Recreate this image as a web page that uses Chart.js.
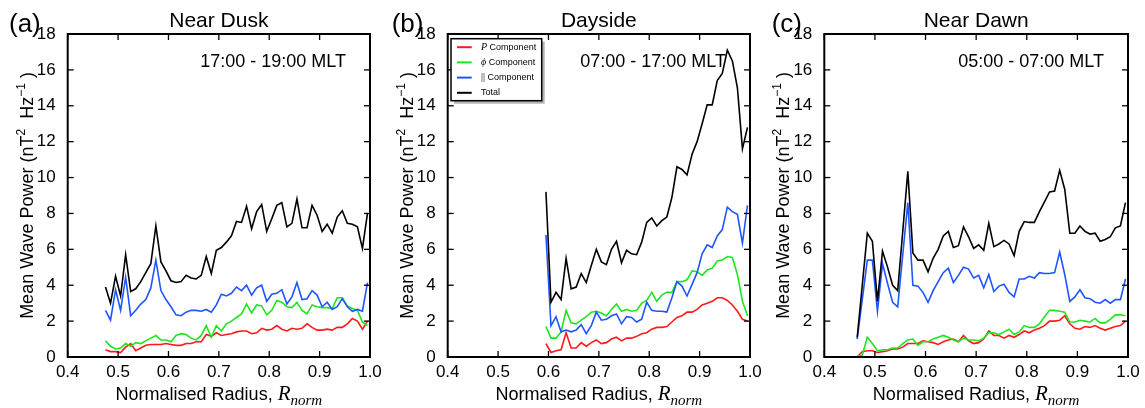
<!DOCTYPE html>
<html>
<head>
<meta charset="utf-8">
<script src="https://cdn.jsdelivr.net/npm/chart.js@4.4.0/dist/chart.umd.min.js"></script>
<style>
html, body { margin: 0; padding: 0; background: #fff; }
#wrap { position: relative; width: 1145px; height: 408px; overflow: hidden; }
canvas { position: absolute; top: 0; }
</style>
</head>
<body>
<div id="wrap">
<canvas id="dusk" width="395" height="408" style="left:0px"></canvas>
<canvas id="day" width="395" height="408" style="left:380px"></canvas>
<canvas id="dawn" width="388" height="408" style="left:757px"></canvas>
</div>
<script>
const SANS = '"Liberation Sans", Arial, Helvetica, sans-serif';
const SERIF = '"Liberation Serif", "DejaVu Serif", serif';

const xTicks = [0.4, 0.5, 0.6, 0.7, 0.8, 0.9, 1.0];
const yTicks = [0, 2, 4, 6, 8, 10, 12, 14, 16, 18];
const seriesNames = ['P Component', '\u03d5 Component', '|| Component', 'Total'];
const seriesColors = ['#ff1a1a', '#1ee61e', '#1f55ff', '#000000'];

// (a) near dusk
const radiusDusk = [0.475, 0.485, 0.495, 0.505, 0.515, 0.525, 0.535, 0.545, 0.555, 0.565,
    0.575, 0.585, 0.595, 0.605, 0.615, 0.625, 0.635, 0.645, 0.655, 0.665,
    0.675, 0.685, 0.695, 0.705, 0.715, 0.725, 0.735, 0.745, 0.755, 0.765,
    0.775, 0.785, 0.795, 0.805, 0.815, 0.825, 0.835, 0.845, 0.855, 0.865,
    0.875, 0.885, 0.895, 0.905, 0.915, 0.925, 0.935, 0.945, 0.955, 0.965,
    0.975, 0.985, 0.995];
const duskRed = [0.4, 0.3, 0.3, 0.25, 0.55, 0.75, 0.35, 0.5, 0.65, 0.7,
    0.7, 0.7, 0.75, 0.7, 0.65, 0.65, 0.75, 0.75, 0.85, 0.85,
    1.25, 1.15, 1.35, 1.2, 1.25, 1.3, 1.4, 1.45, 1.45, 1.3,
    1.35, 1.6, 1.5, 1.55, 1.75, 1.55, 1.45, 1.6, 1.55, 1.6,
    1.85, 1.65, 1.5, 1.5, 1.55, 1.5, 1.65, 1.65, 1.85, 2.15,
    2.0, 1.55, 2.0];
const duskGreen = [0.9, 0.6, 0.45, 0.5, 0.75, 0.6, 0.8, 0.75, 0.9, 1.05,
    1.2, 0.95, 0.95, 0.85, 1.2, 1.3, 1.25, 1.05, 0.95, 1.2,
    1.75, 1.1, 1.75, 1.45, 1.85, 2.0, 2.2, 2.4, 2.95, 2.45,
    2.9, 2.85, 2.35, 2.6, 3.15, 3.05, 2.8, 2.75, 3.05, 2.6,
    2.4, 2.9, 2.8, 2.75, 2.75, 2.7, 3.3, 3.3, 2.85, 2.7,
    2.6, 1.95, 1.75];
const duskBlue = [2.6, 2.05, 3.75, 2.6, 4.45, 2.3, 2.6, 2.95, 3.2, 3.85,
    5.4, 3.7, 3.2, 2.8, 2.35, 2.3, 2.5, 2.6, 2.6, 2.55,
    2.65, 2.5, 2.9, 3.5, 3.4, 3.55, 3.9, 3.7, 4.0, 3.45,
    3.85, 4.0, 3.1, 3.5, 3.55, 3.75, 2.95, 3.35, 4.15, 3.2,
    3.25, 3.7, 3.45, 2.8, 3.05, 2.65, 2.8, 3.25, 2.8, 2.55,
    2.65, 2.55, 4.15];
const duskTotal = [3.9, 3.0, 4.5, 3.4, 5.7, 3.65, 3.8, 4.2, 4.7, 5.2,
    7.3, 5.3, 4.8, 4.25, 4.15, 4.2, 4.55, 4.4, 4.35, 4.55,
    5.6, 4.65, 5.95, 6.1, 6.4, 6.75, 7.55, 7.5, 8.4, 7.15,
    8.1, 8.5, 7.0, 7.7, 8.45, 8.6, 7.25, 7.45, 8.8, 7.2,
    7.2, 8.45, 7.9, 7.0, 7.4, 6.9, 7.8, 8.15, 7.45, 7.4,
    7.25, 6.05, 8.0];

// (b) dayside
const radiusDay = [0.595, 0.605, 0.615, 0.625, 0.635, 0.645, 0.655, 0.665, 0.675, 0.685,
    0.695, 0.705, 0.715, 0.725, 0.735, 0.745, 0.755, 0.765, 0.775, 0.785,
    0.795, 0.805, 0.815, 0.825, 0.835, 0.845, 0.855, 0.865, 0.875, 0.885,
    0.895, 0.905, 0.915, 0.925, 0.935, 0.945, 0.955, 0.965, 0.975, 0.985,
    0.995];
const dayRed = [0.75, 0.25, 0.35, 0.4, 1.35, 0.5, 0.5, 0.8, 0.6, 0.8,
    0.95, 0.75, 0.8, 1.0, 1.1, 0.9, 1.05, 1.05, 1.15, 1.3,
    1.35, 1.55, 1.65, 1.65, 1.7, 1.95, 2.2, 2.3, 2.5, 2.5,
    2.65, 2.9, 3.0, 3.1, 3.3, 3.3, 3.15, 2.9, 2.55, 2.1,
    2.0];
const dayGreen = [1.7, 1.05, 1.05, 1.4, 2.6, 1.9, 1.85, 2.05, 2.25, 2.5,
    2.55, 2.45, 2.3, 2.65, 2.95, 2.55, 2.65, 2.55, 2.6, 3.0,
    3.15, 3.6, 3.1, 3.45, 3.6, 3.6, 4.2, 4.2, 4.3, 4.8,
    4.75, 4.55, 4.85, 4.95, 5.35, 5.4, 5.6, 5.55, 4.6, 3.1,
    2.3];
const dayBlue = [6.8, 1.75, 2.25, 1.4, 1.5, 1.4, 1.5, 1.8, 1.3, 1.75,
    2.5, 2.05, 2.1, 2.3, 2.4, 1.85, 2.25, 2.2, 1.95, 2.1,
    3.05, 2.6, 2.55, 2.55, 2.5, 3.3, 4.2, 3.95, 3.4, 4.05,
    4.7, 5.75, 6.25, 6.1, 6.75, 7.1, 8.35, 8.1, 7.95, 6.35,
    8.45];
const dayTotal = [9.2, 3.05, 3.6, 3.2, 5.5, 3.8, 3.9, 4.65, 4.15, 5.1,
    6.0, 5.3, 5.15, 6.0, 6.45, 5.25, 5.95, 5.75, 5.7, 6.4,
    7.5, 7.75, 7.3, 7.6, 7.8, 8.9, 10.6, 10.45, 10.15, 11.3,
    12.0, 13.0, 14.05, 14.05, 15.4, 15.8, 17.1, 16.5, 15.0, 11.6,
    12.8];

// (c) near dawn
const radiusDawn = [0.465, 0.475, 0.485, 0.495, 0.505, 0.515, 0.525, 0.535, 0.545, 0.555,
    0.565, 0.575, 0.585, 0.595, 0.605, 0.615, 0.625, 0.635, 0.645, 0.655,
    0.665, 0.675, 0.685, 0.695, 0.705, 0.715, 0.725, 0.735, 0.745, 0.755,
    0.765, 0.775, 0.785, 0.795, 0.805, 0.815, 0.825, 0.835, 0.845, 0.855,
    0.865, 0.875, 0.885, 0.895, 0.905, 0.915, 0.925, 0.935, 0.945, 0.955,
    0.965, 0.975, 0.985, 0.995];
const dawnRed = [0.0, 0.3, 0.35, 0.35, 0.25, 0.3, 0.35, 0.45, 0.45, 0.55,
    0.75, 0.75, 0.75, 0.9, 0.85, 0.8, 0.7, 0.85, 0.95, 1.0,
    0.85, 1.2, 0.9, 0.75, 0.8, 1.0, 1.45, 1.2, 1.2, 1.05,
    1.2, 1.1, 1.25, 1.45, 1.35, 1.5, 1.6, 1.75, 2.0, 2.0,
    2.05, 2.3, 1.85, 1.6, 1.55, 1.7, 1.65, 1.75, 1.6, 1.5,
    1.6, 1.7, 1.75, 2.0];
const dawnGreen = [0.05, 0.1, 1.1, 0.75, 0.35, 0.4, 0.4, 0.5, 0.5, 0.75,
    0.95, 1.0, 0.65, 0.85, 0.85, 1.0, 1.1, 1.2, 1.1, 0.95,
    0.85, 1.05, 0.95, 0.95, 0.9, 1.05, 1.35, 1.35, 1.25, 1.4,
    1.55, 1.25, 1.4, 1.75, 1.65, 1.65, 1.85, 2.25, 2.6, 2.6,
    2.55, 2.5, 1.95, 1.95, 2.05, 2.0, 1.95, 2.15, 1.9, 1.9,
    2.1, 2.35, 2.35, 2.3];
const dawnBlue = [1.0, 3.2, 5.4, 5.4, 2.55, 5.2, 4.1, 3.05, 2.8, 5.7,
    8.6, 4.0, 3.95, 3.6, 3.05, 3.7, 4.2, 4.7, 4.95, 4.15,
    4.55, 5.0, 4.9, 4.4, 4.55, 3.85, 4.6, 3.65, 3.95, 4.05,
    3.6, 3.35, 4.35, 4.35, 4.5, 4.4, 4.7, 4.65, 4.65, 4.7,
    5.85, 4.6, 3.1, 3.35, 3.75, 3.3, 3.25, 3.05, 3.0, 3.2,
    3.0, 3.2, 3.2, 4.35];
const dawnTotal = [1.1, 4.0, 6.9, 6.45, 3.1, 5.9, 5.0, 4.0, 3.7, 7.0,
    10.35, 5.8, 5.4, 5.4, 4.75, 5.5, 6.0, 6.75, 7.0, 6.1,
    6.2, 7.25, 6.7, 6.05, 6.25, 5.95, 7.45, 6.15, 6.3, 6.5,
    6.3, 5.65, 7.0, 7.55, 7.5, 7.5, 8.1, 8.65, 9.2, 9.25,
    10.4, 9.35, 6.9, 6.9, 7.3, 7.0, 6.85, 6.9, 6.45, 6.55,
    6.7, 7.2, 7.3, 8.6];

// draws a run of [text, font, baseline shift] pieces starting at x
function drawPieces(ctx, pieces, x, y) {
    pieces.forEach(p => {
        ctx.font = p[1];
        ctx.fillText(p[0], x, y + p[2]);
        x += ctx.measureText(p[0]).width;
    });
}

function piecesWidth(ctx, pieces) {
    let w = 0;
    pieces.forEach(p => { ctx.font = p[1]; w += ctx.measureText(p[0]).width; });
    return w;
}

function line(ctx, x1, y1, x2, y2) {
    ctx.beginPath();
    ctx.moveTo(x1, y1);
    ctx.lineTo(x2, y2);
    ctx.stroke();
}

const panelDecor = {
    id: 'panelDecor',
    beforeDatasetsDraw(chart, args, opts) {
        const ctx = chart.ctx;
        const a = chart.chartArea;
        ctx.save();
        ctx.fillStyle = '#000';
        ctx.font = '18px ' + SANS;
        ctx.textAlign = 'right';
        ctx.textBaseline = 'alphabetic';
        ctx.fillText(opts.note, a.right - 24, a.top + 33);
        ctx.restore();
    },
    afterDraw(chart, args, opts) {
        const ctx = chart.ctx;
        const a = chart.chartArea;
        const xs = chart.scales.x;
        const ys = chart.scales.y;
        ctx.save();
        ctx.strokeStyle = '#000';
        ctx.fillStyle = '#000';

        // inward ticks on all four sides
        ctx.lineWidth = 1.3;
        xTicks.forEach(v => {
            const px = xs.getPixelForValue(v);
            line(ctx, px, a.bottom, px, a.bottom - 6);
            line(ctx, px, a.top, px, a.top + 6);
        });
        yTicks.forEach(v => {
            const py = ys.getPixelForValue(v);
            line(ctx, a.left, py, a.left + 6, py);
            line(ctx, a.right, py, a.right - 6, py);
        });
        ctx.lineWidth = 2;
        ctx.strokeRect(a.left, a.top, a.right - a.left, a.bottom - a.top);

        const cx = (a.left + a.right) / 2;
        ctx.textBaseline = 'alphabetic';

        // title and panel tag
        ctx.textAlign = 'center';
        ctx.font = '21px ' + SANS;
        ctx.fillText(opts.title, cx, a.top - 7);
        ctx.textAlign = 'left';
        ctx.font = '26px ' + SANS;
        ctx.fillText(opts.tag, a.left + opts.tagOffset, 32);

        // x axis title
        const xPieces = [
            ['Normalised Radius, ', '18px ' + SANS, 0],
            ['R', 'italic 21px ' + SERIF, 0],
            ['norm', 'italic 15px ' + SERIF, 5],
        ];
        drawPieces(ctx, xPieces, cx - piecesWidth(ctx, xPieces) / 2, a.bottom + 43);

        // y axis title
        const yPieces = [
            ['Mean Wave Power (nT', '18px ' + SANS, 0],
            ['2', '12px ' + SANS, -8],
            ['  Hz', '18px ' + SANS, 0],
            ['\u22121', '12px ' + SANS, -8],
            [' )', '18px ' + SANS, 0],
        ];
        ctx.save();
        ctx.translate(a.left - 35, (a.top + a.bottom) / 2);
        ctx.rotate(-Math.PI / 2);
        drawPieces(ctx, yPieces, -piecesWidth(ctx, yPieces) / 2, 0);
        ctx.restore();

        if (opts.legend) {
            const lx = a.left + 3.3, ly = a.top + 4.7, lw = 90.7, lh = 62;
            ctx.fillStyle = '#b3b3b3';
            ctx.fillRect(lx + 3, ly + 3, lw, lh);
            ctx.fillStyle = '#fff';
            ctx.fillRect(lx, ly, lw, lh);
            ctx.lineWidth = 1.5;
            ctx.strokeRect(lx, ly, lw, lh);
            chart.data.datasets.forEach((ds, i) => {
                const y = ly + 8.5 + i * 15.2;
                ctx.strokeStyle = ds.borderColor;
                ctx.lineWidth = 2;
                line(ctx, lx + 6, y, lx + 20.7, y);
                ctx.fillStyle = '#000';
                ctx.textBaseline = 'middle';
                const parts = ds.label.split(' ');
                if (parts.length > 1) {
                    const symFont = parts[0] === '||' ? '10px ' + SERIF : 'italic 10px ' + SERIF;
                    drawPieces(ctx, [[parts[0], symFont, 0], [' ' + parts[1], '9px ' + SANS, 0]], lx + 30, y);
                } else {
                    ctx.font = '9px ' + SANS;
                    ctx.fillText(ds.label, lx + 30, y);
                }
            });
        }
        ctx.restore();
    },
};

function makePanel(id, radius, values, decor, yWidth, padRight) {
    const datasets = values.map((vals, i) => ({
        label: seriesNames[i],
        data: radius.map((r, j) => ({ x: r, y: vals[j] })),
        borderColor: seriesColors[i],
        borderWidth: 1.6,
        pointRadius: 0,
        fill: false,
        tension: 0,
        order: values.length - i,
    }));
    new Chart(document.getElementById(id), {
        type: 'line',
        data: { datasets: datasets },
        options: {
            responsive: false,
            animation: false,
            layout: { padding: { left: 0, right: padRight, top: 34, bottom: 0 } },
            plugins: {
                legend: { display: false },
                tooltip: { enabled: false },
                panelDecor: decor,
            },
            scales: {
                x: {
                    type: 'linear',
                    min: 0.4,
                    max: 1.0,
                    grid: { display: false },
                    border: { display: false },
                    afterBuildTicks: s => { s.ticks = xTicks.map(v => ({ value: v })); },
                    afterFit: s => { s.height = 51; },
                    ticks: {
                        autoSkip: false,
                        maxRotation: 0,
                        padding: -3,
                        color: '#000',
                        font: { family: SANS, size: 17 },
                        callback: v => v.toFixed(1),
                    },
                },
                y: {
                    type: 'linear',
                    min: 0,
                    max: 18,
                    grid: { display: false },
                    border: { display: false },
                    afterBuildTicks: s => { s.ticks = yTicks.map(v => ({ value: v })); },
                    afterFit: s => { s.width = yWidth; },
                    ticks: {
                        autoSkip: false,
                        padding: 4,
                        color: '#000',
                        font: { family: SANS, size: 17 },
                        callback: v => String(v),
                    },
                },
            },
        },
        plugins: [panelDecor],
    });
}

makePanel('dusk', radiusDusk, [duskRed, duskGreen, duskBlue, duskTotal],
    { title: 'Near Dusk', note: '17:00 - 19:00 MLT', tag: '(a)', tagOffset: -58.7, legend: false }, 67.7, 25);
makePanel('day', radiusDay, [dayRed, dayGreen, dayBlue, dayTotal],
    { title: 'Dayside', note: '07:00 - 17:00 MLT', tag: '(b)', tagOffset: -56, legend: true }, 67.7, 25);
makePanel('dawn', radiusDawn, [dawnRed, dawnGreen, dawnBlue, dawnTotal],
    { title: 'Near Dawn', note: '05:00 - 07:00 MLT', tag: '(c)', tagOffset: -52.6, legend: false }, 67.3, 17);
</script>
</body>
</html>
